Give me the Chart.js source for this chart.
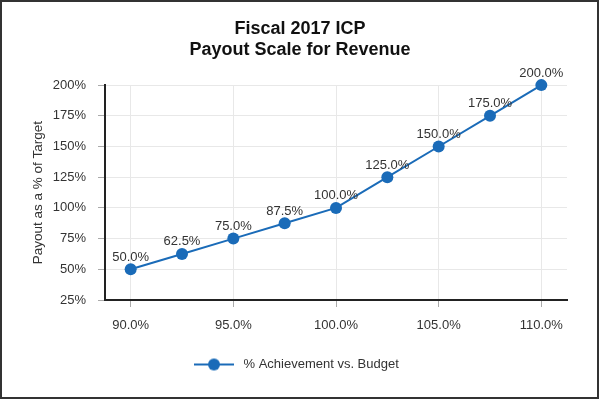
<!DOCTYPE html>
<html>
<head>
<meta charset="utf-8">
<script src="https://cdn.jsdelivr.net/npm/chart.js@4/dist/chart.umd.min.js"></script>
<style>
  html, body { margin: 0; padding: 0; background: #fff; }
  #wrap { width: 600px; height: 400px; }
</style>
</head>
<body>
<div id="wrap"><canvas id="chart" width="600" height="400"></canvas></div>
<script>
// --- data ---
const achievement = [90, 92.5, 95, 97.5, 100, 102.5, 105, 107.5, 110];
const payout = [50, 62.5, 75, 87.5, 100, 125, 150, 175, 200];
const titleLines = ['Fiscal 2017 ICP', 'Payout Scale for Revenue'];
const seriesName = '% Achievement vs. Budget';

const FONT = '"Liberation Sans", Arial, Helvetica, sans-serif';
const BLUE = '#1a6bb8';
const TEXT = '#333';

// legend marker: short line with a dot in the middle (3px spare on the right)
const marker = document.createElement('canvas');
marker.width = 43;
marker.height = 14;
(() => {
  const c = marker.getContext('2d');
  c.strokeStyle = BLUE;
  c.lineWidth = 2;
  c.beginPath();
  c.moveTo(0, 7);
  c.lineTo(40, 7);
  c.stroke();
  c.fillStyle = BLUE;
  c.beginPath();
  c.arc(20, 7, 6, 0, Math.PI * 2);
  c.fill();
})();

// value labels above every point
const pointLabels = {
  id: 'pointLabels',
  afterDatasetsDraw(chart) {
    const ctx = chart.ctx;
    const meta = chart.getDatasetMeta(0);
    ctx.save();
    ctx.font = '13px ' + FONT;
    ctx.fillStyle = TEXT;
    ctx.textAlign = 'center';
    ctx.textBaseline = 'alphabetic';
    meta.data.forEach((pt, i) => {
      ctx.fillText(payout[i].toFixed(1) + '%', pt.x, pt.y - 8.5);
    });
    ctx.restore();
  }
};

// outer frame
const frame = {
  id: 'frame',
  afterDraw(chart) {
    const ctx = chart.ctx;
    ctx.save();
    ctx.strokeStyle = '#333';
    ctx.lineWidth = 2;
    ctx.strokeRect(1, 1, 597, 397);
    ctx.restore();
  }
};

new Chart(document.getElementById('chart'), {
  type: 'line',
  data: {
    datasets: [{
      label: seriesName + '\u00a0\u00a0',
      data: achievement.map((x, i) => ({ x: x, y: payout[i] })),
      borderColor: BLUE,
      backgroundColor: BLUE,
      borderWidth: 2,
      pointRadius: 6,
      pointHoverRadius: 6,
      pointBackgroundColor: BLUE,
      pointBorderWidth: 0,
      tension: 0,
      clip: false
    }]
  },
  options: {
    responsive: false,
    animation: false,
    layout: { padding: { left: 33, right: 33, top: 10, bottom: 19 } },
    plugins: {
      title: {
        display: true,
        text: titleLines,
        color: '#111',
        font: { family: FONT, size: 18, weight: 'bold', lineHeight: 1.17 },
        padding: { top: 8.5, bottom: 24.5 }
      },
      legend: {
        position: 'bottom',
        labels: {
          usePointStyle: true,
          pointStyle: marker,
          pointStyleWidth: 43,
          color: TEXT,
          font: { family: FONT, size: 13 },
          padding: 10
        }
      },
      tooltip: { enabled: false }
    },
    scales: {
      x: {
        type: 'linear',
        min: 88.75,
        max: 111.25,
        afterFit(scale) { scale.height = 48; },
        ticks: {
          stepSize: 5,
          includeBounds: false,
          color: TEXT,
          font: { family: FONT, size: 13 },
          padding: 11,
          callback: v => v.toFixed(1) + '%'
        },
        grid: { color: '#e8e8e8', tickColor: '#aaa', tickLength: 7 },
        border: { color: '#222', width: 2 }
      },
      y: {
        min: 25,
        max: 200,
        afterFit(scale) { scale.width = 72; },
        ticks: {
          stepSize: 25,
          color: TEXT,
          font: { family: FONT, size: 13 },
          padding: 12,
          callback: v => v + '%'
        },
        grid: { color: '#e8e8e8', tickColor: '#aaa', tickLength: 7 },
        border: { color: '#222', width: 2 },
        title: {
          display: true,
          text: 'Payout as a % of Target',
          color: TEXT,
          font: { family: FONT, size: 13.5 },
          padding: { top: -3, bottom: 0 }
        }
      }
    }
  },
  plugins: [pointLabels, frame]
});
</script>
</body>
</html>
